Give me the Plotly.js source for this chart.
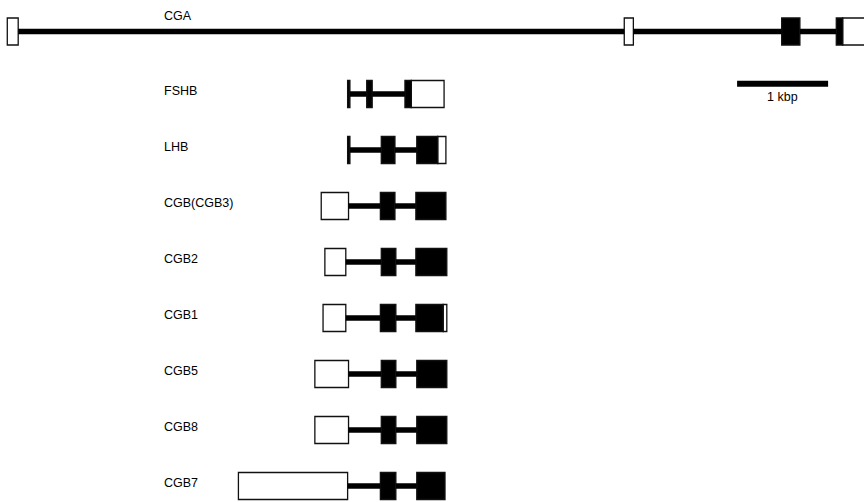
<!DOCTYPE html>
<html>
<head>
<meta charset="utf-8">
<script src="https://cdn.plot.ly/plotly-3.0.1.min.js"></script>
<style>
  html, body { margin: 0; padding: 0; background: #fff; }
  #chart { width: 864px; height: 502px; }
</style>
</head>
<body>
<div id="chart"></div>
<script>
// Gene models of the glycoprotein hormone subunit genes (positions in bp).
const genes = ['CGA', 'FSHB', 'LHB', 'CGB(CGB3)', 'CGB2', 'CGB1', 'CGB5', 'CGB8', 'CGB7'];

// Exon segments per gene: start, end, and whether the segment is coding (true) or UTR (false).
const exonStarts = [
  [80, 6860, 8590, 9190, 9260],
  [3820, 4030, 4450, 4520],
  [3820, 4190, 4580, 4810],
  [3530, 4180, 4570],
  [3570, 4190, 4570],
  [3550, 4180, 4570, 4870],
  [3460, 4190, 4580],
  [3460, 4190, 4580],
  [2620, 4180, 4580]
];
const exonEnds = [
  [200, 6960, 8790, 9260, 9520],
  [3845, 4090, 4520, 4880],
  [3845, 4340, 4810, 4900],
  [3830, 4340, 4900],
  [3800, 4350, 4910],
  [3800, 4350, 4870, 4910],
  [3830, 4350, 4910],
  [3830, 4350, 4910],
  [3820, 4350, 4890]
];
const exonCoding = [
  [false, false, true, true, false],
  [true, true, true, false],
  [true, true, true, false],
  [false, true, true],
  [false, true, true],
  [false, true, true, false],
  [false, true, true],
  [false, true, true],
  [false, true, true]
];

// Scale bar
const scaleStart = 8100;
const scaleLength = 1000;
const scaleLabel = '1 kbp';

// Row layout (row units; one row = 56 px on screen)
const pxPerRow = 56;
const rowOf = i => i === 0 ? -0.116 : i;
const xMax = 864 * 1000 / 91;
const yTop = 1 - 94 / pxPerRow;
const yBottom = 1 + (502 - 94) / pxPerRow;
const boxHeight = 27 / pxPerRow;

const traces = [];

// Introns: black segments joining consecutive exons
const ix = [], iy = [];
genes.forEach((g, i) => {
  const s = exonStarts[i], e = exonEnds[i];
  for (let k = 0; k < s.length - 1; k++) {
    if (s[k + 1] > e[k]) {
      ix.push(e[k], s[k + 1], null);
      iy.push(rowOf(i), rowOf(i), null);
    }
  }
});
traces.push({
  type: 'scatter', mode: 'lines', x: ix, y: iy,
  line: { color: '#000', width: 5.5 }, hoverinfo: 'skip', showlegend: false
});

// Exons as horizontal bars
function exonTrace(coding) {
  const base = [], len = [], y = [];
  genes.forEach((g, i) => {
    exonStarts[i].forEach((s, k) => {
      if (exonCoding[i][k] === coding) {
        base.push(s);
        len.push(exonEnds[i][k] - s);
        y.push(rowOf(i));
      }
    });
  });
  return {
    type: 'bar', orientation: 'h', base: base, x: len, y: y,
    width: boxHeight,
    marker: { color: coding ? '#000' : '#fff', line: { color: '#111', width: 1.3 } },
    hoverinfo: 'skip', showlegend: false
  };
}
traces.push(exonTrace(false));
traces.push(exonTrace(true));

// Scale bar line
const scaleRow = yTop + 83.7 / pxPerRow;
traces.push({
  type: 'scatter', mode: 'lines',
  x: [scaleStart, scaleStart + scaleLength], y: [scaleRow, scaleRow],
  line: { color: '#000', width: 6 }, hoverinfo: 'skip', showlegend: false
});

const font = { family: 'Liberation Sans, Arial, sans-serif', size: 12.5, color: '#000' };
const annotations = genes.map((g, i) => ({
  x: 1780, y: rowOf(i), xref: 'x', yref: 'y', text: g, showarrow: false,
  xanchor: 'left', yanchor: 'middle', font: font,
  yshift: i === 0 ? 16 : 3
}));
annotations.push({
  x: scaleStart + scaleLength / 2, y: scaleRow, xref: 'x', yref: 'y',
  text: scaleLabel, showarrow: false, xanchor: 'center', yanchor: 'middle',
  yshift: -13, font: font
});

const layout = {
  width: 864, height: 502,
  margin: { l: 0, r: 0, t: 0, b: 0 },
  paper_bgcolor: '#fff', plot_bgcolor: '#fff',
  barmode: 'overlay',
  xaxis: { range: [0, xMax], visible: false, fixedrange: true },
  yaxis: { range: [yBottom, yTop], visible: false, fixedrange: true },
  annotations: annotations,
  showlegend: false
};

Plotly.newPlot('chart', traces, layout, { staticPlot: true, displayModeBar: false });
</script>
</body>
</html>
